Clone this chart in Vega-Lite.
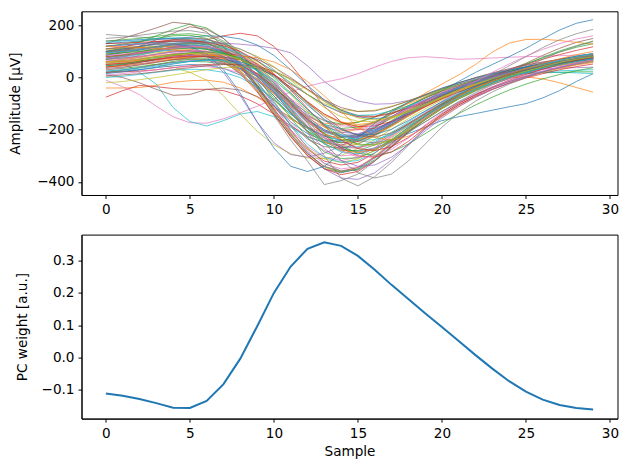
{
"$schema": "https://vega.github.io/schema/vega-lite/v6.json",
"autosize": {"type": "pad"},
"padding": {"left": 7.5, "top": 10.3, "right": 1, "bottom": 5},
"background": "white",
"spacing": 39.3,
"bounds": "flush",
"config": {
"view": {"stroke": "black", "strokeWidth": 1},
"axis": {"domainColor": "black", "domainWidth": 1, "tickColor": "black", "tickWidth": 1, "tickSize": 3.5, "labelFont": "DejaVu Sans", "labelFontSize": 13.6, "labelColor": "black", "labelPadding": 4, "labelOverlap": false, "labelFlush": false, "titleFont": "DejaVu Sans", "titleFontSize": 13.6, "titleFontWeight": "normal", "titleColor": "black", "grid": false}
},
"datasets": {
"wave": [
{"sample":0,"w00":80,"w01":-40,"w02":100,"w03":-75,"w04":120,"w05":130,"w06":-10,"w07":60,"w08":50,"w09":70,"w10":20,"w11":50,"w12":30,"w13":70,"w14":100,"w15":10,"w16":90,"w17":40,"w18":80,"w19":110,"w20":60,"w21":70,"w22":20,"w23":110,"w24":140,"w25":60,"w26":50,"w27":165,"w28":90,"w29":0,"w30":130,"w31":40,"w32":75,"w33":20,"w34":95,"w35":85,"w36":60,"w37":100,"w38":70,"w39":120,"w40":45,"w41":110,"w42":140,"w43":80,"w44":25,"w45":95,"w46":10,"w47":55,"w48":105,"w49":70,"w50":85,"w51":60,"w52":120,"w53":40,"w54":75,"w55":100,"w56":30,"w57":150,"w58":55,"w59":95,"w60":100,"w61":60,"w62":90,"w63":50,"w64":120,"w65":5,"w66":65,"w67":110,"w68":-20,"w69":135,"w70":15,"w71":120,"w72":45,"w73":130,"w74":70,"w75":35,"w76":85,"w77":100,"w78":60,"w79":25},
{"sample":1,"w00":85,"w01":-40,"w02":115,"w03":-50,"w04":125,"w05":150,"w06":-35,"w07":70,"w08":55,"w09":55,"w10":25,"w11":55,"w12":35,"w13":80,"w14":105,"w15":0,"w16":98,"w17":45,"w18":85,"w19":112,"w20":65,"w21":75,"w22":28,"w23":118,"w24":142,"w25":62,"w26":58,"w27":160,"w28":95,"w29":5,"w30":135,"w31":45,"w32":85,"w33":22,"w34":100,"w35":100,"w36":65,"w37":102,"w38":72,"w39":125,"w40":50,"w41":112,"w42":145,"w43":88,"w44":30,"w45":105,"w46":15,"w47":62,"w48":110,"w49":78,"w50":95,"w51":68,"w52":128,"w53":48,"w54":82,"w55":108,"w56":38,"w57":155,"w58":60,"w59":100,"w60":110,"w61":62,"w62":95,"w63":55,"w64":125,"w65":10,"w66":70,"w67":115,"w68":-15,"w69":140,"w70":22,"w71":118,"w72":52,"w73":132,"w74":75,"w75":40,"w76":90,"w77":104,"w78":64,"w79":30},
{"sample":2,"w00":92,"w01":-38,"w02":135,"w03":-30,"w04":130,"w05":170,"w06":-65,"w07":85,"w08":55,"w09":20,"w10":30,"w11":60,"w12":42,"w13":92,"w14":112,"w15":-20,"w16":108,"w17":52,"w18":90,"w19":115,"w20":70,"w21":80,"w22":38,"w23":128,"w24":145,"w25":65,"w26":68,"w27":155,"w28":100,"w29":12,"w30":140,"w31":52,"w32":98,"w33":25,"w34":108,"w35":120,"w36":72,"w37":105,"w38":75,"w39":130,"w40":58,"w41":115,"w42":150,"w43":96,"w44":38,"w45":118,"w46":22,"w47":70,"w48":115,"w49":88,"w50":105,"w51":78,"w52":138,"w53":58,"w54":92,"w55":118,"w56":50,"w57":162,"w58":68,"w59":108,"w60":120,"w61":66,"w62":100,"w63":62,"w64":128,"w65":15,"w66":78,"w67":120,"w68":-8,"w69":145,"w70":30,"w71":115,"w72":62,"w73":135,"w74":82,"w75":48,"w76":96,"w77":110,"w78":70,"w79":36},
{"sample":3,"w00":100,"w01":-30,"w02":160,"w03":-35,"w04":135,"w05":190,"w06":-110,"w07":100,"w08":50,"w09":-25,"w10":38,"w11":65,"w12":50,"w13":105,"w14":120,"w15":-45,"w16":118,"w17":60,"w18":95,"w19":118,"w20":78,"w21":85,"w22":50,"w23":138,"w24":148,"w25":70,"w26":80,"w27":150,"w28":108,"w29":20,"w30":145,"w31":60,"w32":112,"w33":30,"w34":115,"w35":145,"w36":80,"w37":110,"w38":80,"w39":135,"w40":68,"w41":118,"w42":158,"w43":105,"w44":48,"w45":132,"w46":30,"w47":80,"w48":120,"w49":100,"w50":118,"w51":90,"w52":150,"w53":70,"w54":104,"w55":130,"w56":64,"w57":170,"w58":78,"w59":118,"w60":128,"w61":70,"w62":105,"w63":70,"w64":130,"w65":22,"w66":88,"w67":126,"w68":0,"w69":150,"w70":40,"w71":112,"w72":74,"w73":138,"w74":90,"w75":58,"w76":104,"w77":118,"w78":78,"w79":44},
{"sample":4,"w00":105,"w01":-18,"w02":185,"w03":-42,"w04":138,"w05":212,"w06":-150,"w07":115,"w08":40,"w09":-115,"w10":45,"w11":70,"w12":58,"w13":118,"w14":125,"w15":-68,"w16":128,"w17":68,"w18":100,"w19":120,"w20":85,"w21":90,"w22":62,"w23":145,"w24":150,"w25":75,"w26":92,"w27":148,"w28":115,"w29":28,"w30":150,"w31":70,"w32":125,"w33":38,"w34":122,"w35":170,"w36":88,"w37":115,"w38":85,"w39":138,"w40":78,"w41":120,"w42":165,"w43":112,"w44":58,"w45":145,"w46":38,"w47":90,"w48":125,"w49":110,"w50":130,"w51":102,"w52":160,"w53":82,"w54":116,"w55":140,"w56":78,"w57":178,"w58":88,"w59":126,"w60":130,"w61":75,"w62":110,"w63":78,"w64":128,"w65":30,"w66":98,"w67":132,"w68":10,"w69":152,"w70":52,"w71":108,"w72":86,"w73":140,"w74":98,"w75":68,"w76":112,"w77":126,"w78":86,"w79":54},
{"sample":5,"w00":102,"w01":-12,"w02":205,"w03":-45,"w04":138,"w05":205,"w06":-173,"w07":120,"w08":20,"w09":-168,"w10":50,"w11":72,"w12":62,"w13":130,"w14":125,"w15":-65,"w16":130,"w17":72,"w18":102,"w19":118,"w20":88,"w21":92,"w22":70,"w23":145,"w24":150,"w25":80,"w26":100,"w27":145,"w28":120,"w29":32,"w30":155,"w31":78,"w32":132,"w33":45,"w34":125,"w35":195,"w36":92,"w37":118,"w38":85,"w39":135,"w40":85,"w41":120,"w42":168,"w43":115,"w44":65,"w45":152,"w46":42,"w47":95,"w48":128,"w49":115,"w50":135,"w51":108,"w52":162,"w53":88,"w54":122,"w55":142,"w56":86,"w57":180,"w58":92,"w59":128,"w60":120,"w61":80,"w62":112,"w63":82,"w64":115,"w65":38,"w66":105,"w67":135,"w68":20,"w69":150,"w70":62,"w71":102,"w72":95,"w73":140,"w74":102,"w75":76,"w76":118,"w77":132,"w78":92,"w79":62},
{"sample":6,"w00":90,"w01":-10,"w02":190,"w03":-45,"w04":135,"w05":175,"w06":-175,"w07":110,"w08":-10,"w09":-186,"w10":48,"w11":68,"w12":60,"w13":145,"w14":118,"w15":-45,"w16":120,"w17":70,"w18":100,"w19":110,"w20":82,"w21":88,"w22":72,"w23":135,"w24":145,"w25":85,"w26":98,"w27":138,"w28":118,"w29":30,"w30":160,"w31":82,"w32":128,"w33":50,"w34":120,"w35":185,"w36":88,"w37":115,"w38":78,"w39":128,"w40":85,"w41":112,"w42":160,"w43":110,"w44":65,"w45":148,"w46":42,"w47":92,"w48":128,"w49":110,"w50":125,"w51":100,"w52":150,"w53":82,"w54":118,"w55":132,"w56":82,"w57":170,"w58":85,"w59":120,"w60":90,"w61":84,"w62":108,"w63":80,"w64":80,"w65":45,"w66":102,"w67":130,"w68":30,"w69":140,"w70":68,"w71":92,"w72":98,"w73":135,"w74":98,"w75":80,"w76":118,"w77":134,"w78":94,"w79":66},
{"sample":7,"w00":62,"w01":-18,"w02":150,"w03":-50,"w04":132,"w05":120,"w06":-158,"w07":80,"w08":-70,"w09":-165,"w10":35,"w11":55,"w12":52,"w13":160,"w14":100,"w15":-40,"w16":92,"w17":60,"w18":95,"w19":90,"w20":65,"w21":75,"w22":65,"w23":105,"w24":130,"w25":88,"w26":80,"w27":120,"w28":108,"w29":20,"w30":158,"w31":80,"w32":110,"w33":52,"w34":105,"w35":150,"w36":75,"w37":102,"w38":60,"w39":115,"w40":75,"w41":95,"w42":135,"w43":100,"w44":55,"w45":128,"w46":35,"w47":80,"w48":122,"w49":92,"w50":95,"w51":75,"w52":115,"w53":60,"w54":98,"w55":100,"w56":62,"w57":140,"w58":62,"w59":96,"w60":30,"w61":86,"w62":95,"w63":70,"w64":20,"w65":50,"w66":88,"w67":115,"w68":38,"w69":118,"w70":68,"w71":72,"w72":92,"w73":122,"w74":82,"w75":78,"w76":108,"w77":128,"w78":88,"w79":64},
{"sample":8,"w00":18,"w01":-40,"w02":80,"w03":-70,"w04":128,"w05":50,"w06":-135,"w07":25,"w08":-140,"w09":-140,"w10":10,"w11":30,"w12":35,"w13":170,"w14":70,"w15":-48,"w16":40,"w17":40,"w18":85,"w19":55,"w20":35,"w21":50,"w22":45,"w23":50,"w24":100,"w25":85,"w26":40,"w27":85,"w28":88,"w29":0,"w30":148,"w31":70,"w32":70,"w33":48,"w34":78,"w35":95,"w36":50,"w37":75,"w38":25,"w39":95,"w40":50,"w41":62,"w42":90,"w43":82,"w44":32,"w45":88,"w46":18,"w47":55,"w48":108,"w49":58,"w50":40,"w51":25,"w52":55,"w53":15,"w54":55,"w55":45,"w56":20,"w57":85,"w58":18,"w59":52,"w60":-60,"w61":84,"w62":70,"w63":50,"w64":-70,"w65":50,"w66":58,"w67":85,"w68":42,"w69":80,"w70":60,"w71":40,"w72":75,"w73":100,"w74":52,"w75":68,"w76":85,"w77":110,"w78":70,"w79":52},
{"sample":9,"w00":-42,"w01":-75,"w02":0,"w03":-100,"w04":122,"w05":-30,"w06":-110,"w07":-50,"w08":-205,"w09":-130,"w10":-30,"w11":-10,"w12":5,"w13":160,"w14":25,"w15":-72,"w16":-35,"w17":5,"w18":62,"w19":5,"w20":-10,"w21":10,"w22":10,"w23":-30,"w24":50,"w25":70,"w26":-20,"w27":35,"w28":55,"w29":-35,"w30":125,"w31":48,"w32":10,"w33":35,"w34":35,"w35":25,"w36":15,"w37":30,"w38":-25,"w39":65,"w40":10,"w41":15,"w42":25,"w43":52,"w44":-5,"w45":30,"w46":-10,"w47":15,"w48":82,"w49":8,"w50":-40,"w51":-50,"w52":-30,"w53":-55,"w54":-15,"w55":-35,"w56":-45,"w57":5,"w58":-48,"w59":-15,"w60":-170,"w61":76,"w62":30,"w63":15,"w64":-170,"w65":42,"w66":10,"w67":40,"w68":38,"w69":25,"w70":40,"w71":-5,"w72":45,"w73":65,"w74":5,"w75":45,"w76":45,"w77":78,"w78":38,"w79":28},
{"sample":10,"w00":-108,"w01":-118,"w02":-80,"w03":-140,"w04":112,"w05":-110,"w06":-82,"w07":-145,"w08":-258,"w09":-150,"w10":-85,"w11":-60,"w12":-40,"w13":120,"w14":-35,"w15":-110,"w16":-120,"w17":-50,"w18":25,"w19":-55,"w20":-70,"w21":-45,"w22":-40,"w23":-120,"w24":-15,"w25":40,"w26":-95,"w27":-30,"w28":10,"w29":-85,"w30":85,"w31":10,"w32":-70,"w33":10,"w34":-20,"w35":-55,"w36":-30,"w37":-30,"w38":-85,"w39":25,"w40":-45,"w41":-45,"w42":-55,"w43":12,"w44":-55,"w45":-42,"w46":-50,"w47":-40,"w48":42,"w49":-55,"w50":-135,"w51":-140,"w52":-125,"w53":-140,"w54":-105,"w55":-128,"w56":-128,"w57":-90,"w58":-130,"w59":-98,"w60":-270,"w61":60,"w62":-25,"w63":-35,"w64":-250,"w65":25,"w66":-50,"w67":-20,"w68":22,"w69":-45,"w70":5,"w71":-62,"w72":0,"w73":15,"w74":-58,"w75":10,"w76":-12,"w77":30,"w78":-8,"w79":-10},
{"sample":11,"w00":-170,"w01":-160,"w02":-150,"w03":-185,"w04":95,"w05":-180,"w06":-55,"w07":-240,"w08":-292,"w09":-190,"w10":-140,"w11":-110,"w12":-90,"w13":50,"w14":-100,"w15":-155,"w16":-200,"w17":-120,"w18":-20,"w19":-118,"w20":-135,"w21":-105,"w22":-95,"w23":-205,"w24":-85,"w25":0,"w26":-170,"w27":-100,"w28":-45,"w29":-140,"w30":30,"w31":-40,"w32":-155,"w33":-25,"w34":-82,"w35":-130,"w36":-80,"w37":-100,"w38":-150,"w39":-20,"w40":-105,"w41":-110,"w42":-135,"w43":-38,"w44":-112,"w45":-118,"w46":-98,"w47":-102,"w48":-10,"w49":-125,"w50":-225,"w51":-228,"w52":-215,"w53":-225,"w54":-200,"w55":-218,"w56":-212,"w57":-185,"w58":-210,"w59":-182,"w60":-340,"w61":30,"w62":-90,"w63":-95,"w64":-295,"w65":-5,"w66":-118,"w67":-95,"w68":-8,"w69":-122,"w70":-45,"w71":-128,"w72":-58,"w73":-48,"w74":-132,"w75":-38,"w76":-82,"w77":-30,"w78":-66,"w79":-62},
{"sample":12,"w00":-215,"w01":-192,"w02":-205,"w03":-225,"w04":45,"w05":-235,"w06":-33,"w07":-320,"w08":-308,"w09":-228,"w10":-190,"w11":-150,"w12":-135,"w13":-30,"w14":-160,"w15":-195,"w16":-265,"w17":-210,"w18":-65,"w19":-172,"w20":-195,"w21":-155,"w22":-145,"w23":-275,"w24":-150,"w25":-45,"w26":-235,"w27":-165,"w28":-100,"w29":-190,"w30":-30,"w31":-95,"w32":-230,"w33":-65,"w34":-140,"w35":-190,"w36":-128,"w37":-170,"w38":-208,"w39":-65,"w40":-160,"w41":-170,"w42":-205,"w43":-92,"w44":-165,"w45":-188,"w46":-145,"w47":-160,"w48":-65,"w49":-190,"w50":-300,"w51":-300,"w52":-290,"w53":-298,"w54":-285,"w55":-292,"w56":-282,"w57":-268,"w58":-272,"w59":-255,"w60":-360,"w61":-15,"w62":-155,"w63":-160,"w64":-305,"w65":-45,"w66":-182,"w67":-175,"w68":-48,"w69":-195,"w70":-105,"w71":-192,"w72":-122,"w73":-118,"w74":-208,"w75":-95,"w76":-158,"w77":-98,"w78":-130,"w79":-122},
{"sample":13,"w00":-240,"w01":-210,"w02":-240,"w03":-250,"w04":-15,"w05":-265,"w06":-18,"w07":-410,"w08":-310,"w09":-248,"w10":-225,"w11":-175,"w12":-165,"w13":-110,"w14":-205,"w15":-222,"w16":-305,"w17":-300,"w18":-100,"w19":-210,"w20":-245,"w21":-190,"w22":-180,"w23":-320,"w24":-200,"w25":-90,"w26":-280,"w27":-215,"w28":-145,"w29":-225,"w30":-85,"w31":-140,"w32":-285,"w33":-105,"w34":-185,"w35":-232,"w36":-165,"w37":-230,"w38":-248,"w39":-105,"w40":-200,"w41":-215,"w42":-255,"w43":-140,"w44":-205,"w45":-240,"w46":-182,"w47":-205,"w48":-115,"w49":-240,"w50":-350,"w51":-348,"w52":-342,"w53":-350,"w54":-350,"w55":-340,"w56":-330,"w57":-328,"w58":-312,"w59":-305,"w60":-340,"w61":-70,"w62":-215,"w63":-220,"w64":-290,"w65":-85,"w66":-232,"w67":-250,"w68":-92,"w69":-252,"w70":-160,"w71":-245,"w72":-182,"w73":-185,"w74":-272,"w75":-150,"w76":-228,"w77":-162,"w78":-190,"w79":-178},
{"sample":14,"w00":-242,"w01":-212,"w02":-250,"w03":-258,"w04":-60,"w05":-270,"w06":-5,"w07":-395,"w08":-298,"w09":-245,"w10":-240,"w11":-180,"w12":-178,"w13":-170,"w14":-225,"w15":-230,"w16":-318,"w17":-385,"w18":-122,"w19":-228,"w20":-275,"w21":-205,"w22":-195,"w23":-335,"w24":-225,"w25":-125,"w26":-300,"w27":-240,"w28":-175,"w29":-240,"w30":-125,"w31":-170,"w32":-310,"w33":-135,"w34":-210,"w35":-250,"w36":-185,"w37":-270,"w38":-262,"w39":-132,"w40":-220,"w41":-238,"w42":-280,"w43":-172,"w44":-225,"w45":-268,"w46":-200,"w47":-228,"w48":-150,"w49":-265,"w50":-365,"w51":-362,"w52":-362,"w53":-372,"w54":-385,"w55":-358,"w56":-350,"w57":-358,"w58":-325,"w59":-325,"w60":-290,"w61":-130,"w62":-262,"w63":-270,"w64":-262,"w65":-115,"w66":-262,"w67":-318,"w68":-130,"w69":-285,"w70":-200,"w71":-278,"w72":-228,"w73":-240,"w74":-318,"w75":-195,"w76":-280,"w77":-212,"w78":-235,"w79":-220},
{"sample":15,"w00":-225,"w01":-198,"w02":-238,"w03":-245,"w04":-90,"w05":-255,"w06":15,"w07":-370,"w08":-272,"w09":-225,"w10":-235,"w11":-170,"w12":-172,"w13":-200,"w14":-225,"w15":-218,"w16":-305,"w17":-415,"w18":-130,"w19":-225,"w20":-282,"w21":-195,"w22":-190,"w23":-325,"w24":-228,"w25":-145,"w26":-295,"w27":-240,"w28":-185,"w29":-235,"w30":-150,"w31":-180,"w32":-308,"w33":-150,"w34":-215,"w35":-245,"w36":-188,"w37":-285,"w38":-252,"w39":-145,"w40":-220,"w41":-238,"w42":-280,"w43":-188,"w44":-225,"w45":-270,"w46":-200,"w47":-230,"w48":-168,"w49":-265,"w50":-350,"w51":-345,"w52":-352,"w53":-360,"w54":-390,"w55":-345,"w56":-342,"w57":-355,"w58":-312,"w59":-318,"w60":-230,"w61":-190,"w62":-290,"w63":-300,"w64":-225,"w65":-130,"w66":-270,"w67":-365,"w68":-155,"w69":-292,"w70":-220,"w71":-288,"w72":-255,"w73":-272,"w74":-340,"w75":-222,"w76":-305,"w77":-242,"w78":-258,"w79":-240},
{"sample":16,"w00":-193,"w01":-172,"w02":-205,"w03":-215,"w04":-102,"w05":-222,"w06":40,"w07":-320,"w08":-238,"w09":-192,"w10":-210,"w11":-150,"w12":-152,"w13":-195,"w14":-205,"w15":-190,"w16":-270,"w17":-380,"w18":-125,"w19":-205,"w20":-270,"w21":-170,"w22":-170,"w23":-290,"w24":-210,"w25":-148,"w26":-268,"w27":-220,"w28":-178,"w29":-212,"w30":-158,"w31":-172,"w32":-280,"w33":-150,"w34":-200,"w35":-220,"w36":-175,"w37":-275,"w38":-225,"w39":-142,"w40":-200,"w41":-218,"w42":-258,"w43":-185,"w44":-205,"w45":-250,"w46":-182,"w47":-212,"w48":-168,"w49":-245,"w50":-308,"w51":-302,"w52":-315,"w53":-320,"w54":-365,"w55":-305,"w56":-308,"w57":-320,"w58":-278,"w59":-288,"w60":-175,"w61":-230,"w62":-298,"w63":-305,"w64":-185,"w65":-128,"w66":-255,"w67":-385,"w68":-162,"w69":-275,"w70":-218,"w71":-275,"w72":-258,"w73":-280,"w74":-335,"w75":-228,"w76":-302,"w77":-250,"w78":-258,"w79":-238},
{"sample":17,"w00":-152,"w01":-140,"w02":-165,"w03":-175,"w04":-100,"w05":-180,"w06":62,"w07":-262,"w08":-198,"w09":-152,"w10":-172,"w11":-125,"w12":-125,"w13":-170,"w14":-172,"w15":-155,"w16":-225,"w17":-325,"w18":-110,"w19":-172,"w20":-245,"w21":-135,"w22":-140,"w23":-240,"w24":-180,"w25":-135,"w26":-228,"w27":-185,"w28":-158,"w29":-178,"w30":-150,"w31":-152,"w32":-238,"w33":-138,"w34":-172,"w35":-182,"w36":-150,"w37":-248,"w38":-188,"w39":-128,"w40":-168,"w41":-185,"w42":-220,"w43":-168,"w44":-172,"w45":-215,"w46":-152,"w47":-180,"w48":-155,"w49":-210,"w50":-255,"w51":-248,"w52":-265,"w53":-265,"w54":-315,"w55":-252,"w56":-258,"w57":-268,"w58":-232,"w59":-245,"w60":-130,"w61":-240,"w62":-285,"w63":-285,"w64":-148,"w65":-112,"w66":-222,"w67":-370,"w68":-152,"w69":-238,"w70":-198,"w71":-242,"w72":-240,"w73":-265,"w74":-305,"w75":-212,"w76":-275,"w77":-238,"w78":-238,"w79":-218},
{"sample":18,"w00":-112,"w01":-108,"w02":-125,"w03":-135,"w04":-88,"w05":-138,"w06":76,"w07":-205,"w08":-158,"w09":-112,"w10":-130,"w11":-100,"w12":-95,"w13":-135,"w14":-135,"w15":-120,"w16":-178,"w17":-260,"w18":-90,"w19":-135,"w20":-215,"w21":-98,"w22":-108,"w23":-190,"w24":-145,"w25":-115,"w26":-185,"w27":-148,"w28":-130,"w29":-140,"w30":-130,"w31":-125,"w32":-192,"w33":-118,"w34":-140,"w35":-142,"w36":-120,"w37":-210,"w38":-148,"w39":-108,"w40":-132,"w41":-148,"w42":-178,"w43":-142,"w44":-135,"w45":-175,"w46":-118,"w47":-142,"w48":-132,"w49":-170,"w50":-200,"w51":-195,"w52":-210,"w53":-208,"w54":-255,"w55":-198,"w56":-205,"w57":-212,"w58":-185,"w59":-198,"w60":-95,"w61":-225,"w62":-255,"w63":-245,"w64":-115,"w65":-90,"w66":-180,"w67":-320,"w68":-130,"w69":-192,"w70":-165,"w71":-198,"w72":-205,"w73":-230,"w74":-258,"w75":-180,"w76":-232,"w77":-208,"w78":-202,"w79":-185},
{"sample":19,"w00":-78,"w01":-78,"w02":-90,"w03":-98,"w04":-70,"w05":-100,"w06":80,"w07":-158,"w08":-120,"w09":-76,"w10":-90,"w11":-75,"w12":-68,"w13":-100,"w14":-100,"w15":-88,"w16":-135,"w17":-195,"w18":-68,"w19":-100,"w20":-190,"w21":-60,"w22":-78,"w23":-145,"w24":-110,"w25":-90,"w26":-145,"w27":-112,"w28":-100,"w29":-102,"w30":-105,"w31":-96,"w32":-148,"w33":-95,"w34":-108,"w35":-105,"w36":-90,"w37":-170,"w38":-110,"w39":-85,"w40":-98,"w41":-112,"w42":-138,"w43":-112,"w44":-98,"w45":-138,"w46":-85,"w47":-105,"w48":-105,"w49":-130,"w50":-150,"w51":-148,"w52":-160,"w53":-158,"w54":-198,"w55":-148,"w56":-155,"w57":-162,"w58":-140,"w59":-152,"w60":-65,"w61":-192,"w62":-215,"w63":-193,"w64":-85,"w65":-66,"w66":-135,"w67":-255,"w68":-102,"w69":-145,"w70":-128,"w71":-152,"w72":-162,"w73":-185,"w74":-205,"w75":-140,"w76":-182,"w77":-170,"w78":-160,"w79":-148},
{"sample":20,"w00":-50,"w01":-52,"w02":-60,"w03":-65,"w04":-50,"w05":-68,"w06":76,"w07":-118,"w08":-86,"w09":-45,"w10":-50,"w11":-52,"w12":-45,"w13":-70,"w14":-70,"w15":-60,"w16":-98,"w17":-140,"w18":-48,"w19":-70,"w20":-165,"w21":-25,"w22":-52,"w23":-105,"w24":-78,"w25":-65,"w26":-108,"w27":-80,"w28":-72,"w29":-68,"w30":-80,"w31":-70,"w32":-108,"w33":-70,"w34":-78,"w35":-72,"w36":-62,"w37":-130,"w38":-76,"w39":-62,"w40":-68,"w41":-80,"w42":-100,"w43":-82,"w44":-65,"w45":-102,"w46":-55,"w47":-72,"w48":-78,"w49":-95,"w50":-108,"w51":-106,"w52":-115,"w53":-115,"w54":-148,"w55":-105,"w56":-112,"w57":-118,"w58":-100,"w59":-110,"w60":-40,"w61":-150,"w62":-175,"w63":-145,"w64":-58,"w65":-42,"w66":-92,"w67":-190,"w68":-74,"w69":-102,"w70":-92,"w71":-110,"w72":-120,"w73":-140,"w74":-155,"w75":-100,"w76":-135,"w77":-130,"w78":-118,"w79":-110},
{"sample":21,"w00":-26,"w01":-30,"w02":-35,"w03":-38,"w04":-30,"w05":-40,"w06":70,"w07":-82,"w08":-56,"w09":-20,"w10":-15,"w11":-32,"w12":-25,"w13":-45,"w14":-45,"w15":-36,"w16":-65,"w17":-98,"w18":-30,"w19":-45,"w20":-150,"w21":10,"w22":-30,"w23":-72,"w24":-50,"w25":-42,"w26":-75,"w27":-50,"w28":-48,"w29":-40,"w30":-55,"w31":-46,"w32":-74,"w33":-45,"w34":-50,"w35":-44,"w36":-38,"w37":-95,"w38":-46,"w39":-40,"w40":-42,"w41":-52,"w42":-68,"w43":-55,"w44":-36,"w45":-70,"w46":-28,"w47":-44,"w48":-52,"w49":-63,"w50":-72,"w51":-70,"w52":-78,"w53":-78,"w54":-105,"w55":-68,"w56":-76,"w57":-80,"w58":-66,"w59":-74,"w60":-20,"w61":-110,"w62":-138,"w63":-105,"w64":-35,"w65":-20,"w66":-52,"w67":-135,"w68":-48,"w69":-65,"w70":-60,"w71":-72,"w72":-82,"w73":-100,"w74":-112,"w75":-65,"w76":-95,"w77":-92,"w78":-80,"w79":-75},
{"sample":22,"w00":-6,"w01":-10,"w02":-12,"w03":-15,"w04":-12,"w05":-15,"w06":72,"w07":-52,"w08":-30,"w09":0,"w10":20,"w11":-15,"w12":-8,"w13":-22,"w14":-22,"w15":-15,"w16":-38,"w17":-65,"w18":-14,"w19":-22,"w20":-138,"w21":50,"w22":-10,"w23":-45,"w24":-25,"w25":-22,"w26":-48,"w27":-20,"w28":-26,"w29":-16,"w30":-32,"w31":-25,"w32":-45,"w33":-20,"w34":-25,"w35":-20,"w36":-18,"w37":-65,"w38":-20,"w39":-20,"w40":-18,"w41":-28,"w42":-40,"w43":-30,"w44":-12,"w45":-42,"w46":-5,"w47":-20,"w48":-28,"w49":-36,"w50":-42,"w51":-40,"w52":-46,"w53":-46,"w54":-70,"w55":-38,"w56":-46,"w57":-48,"w58":-38,"w59":-44,"w60":-2,"w61":-75,"w62":-105,"w63":-72,"w64":-15,"w65":0,"w66":-15,"w67":-90,"w68":-25,"w69":-35,"w70":-32,"w71":-40,"w72":-50,"w73":-66,"w74":-76,"w75":-35,"w76":-62,"w77":-58,"w78":-48,"w79":-45},
{"sample":23,"w00":12,"w01":8,"w02":8,"w03":5,"w04":5,"w05":5,"w06":75,"w07":-26,"w08":-8,"w09":16,"w10":50,"w11":-5,"w12":2,"w13":-3,"w14":-3,"w15":3,"w16":-15,"w17":-38,"w18":0,"w19":-2,"w20":-125,"w21":98,"w22":8,"w23":-20,"w24":-5,"w25":-5,"w26":-24,"w27":10,"w28":-8,"w29":4,"w30":-12,"w31":-6,"w32":-20,"w33":5,"w34":-2,"w35":2,"w36":0,"w37":-38,"w38":2,"w39":-2,"w40":3,"w41":-6,"w42":-10,"w43":-8,"w44":8,"w45":-18,"w46":15,"w47":0,"w48":-6,"w49":-12,"w50":-16,"w51":-14,"w52":-18,"w53":-18,"w54":-40,"w55":-12,"w56":-20,"w57":-20,"w58":-12,"w59":-18,"w60":14,"w61":-45,"w62":-75,"w63":-45,"w64":2,"w65":18,"w66":20,"w67":-55,"w68":-5,"w69":-10,"w70":-8,"w71":-12,"w72":-22,"w73":-36,"w74":-46,"w75":-10,"w76":-35,"w77":-28,"w78":-20,"w79":-20},
{"sample":24,"w00":28,"w01":22,"w02":30,"w03":22,"w04":20,"w05":30,"w06":78,"w07":-5,"w08":12,"w09":30,"w10":80,"w11":0,"w12":10,"w13":15,"w14":14,"w15":18,"w16":5,"w17":-15,"w18":13,"w19":16,"w20":-112,"w21":132,"w22":24,"w23":0,"w24":15,"w25":10,"w26":-4,"w27":45,"w28":10,"w29":12,"w30":6,"w31":12,"w32":2,"w33":28,"w34":18,"w35":22,"w36":15,"w37":-15,"w38":20,"w39":10,"w40":22,"w41":14,"w42":20,"w43":12,"w44":20,"w45":4,"w46":32,"w47":18,"w48":14,"w49":8,"w50":6,"w51":8,"w52":5,"w53":5,"w54":-15,"w55":10,"w56":2,"w57":10,"w58":10,"w59":4,"w60":28,"w61":-20,"w62":-48,"w63":-22,"w64":18,"w65":34,"w66":52,"w67":-25,"w68":12,"w69":12,"w70":12,"w71":12,"w72":2,"w73":-10,"w74":-20,"w75":12,"w76":-12,"w77":-2,"w78":4,"w79":2},
{"sample":25,"w00":42,"w01":35,"w02":52,"w03":38,"w04":34,"w05":55,"w06":80,"w07":15,"w08":28,"w09":42,"w10":112,"w11":2,"w12":15,"w13":30,"w14":30,"w15":32,"w16":22,"w17":5,"w18":25,"w19":32,"w20":-100,"w21":146,"w22":38,"w23":18,"w24":32,"w25":24,"w26":15,"w27":80,"w28":25,"w29":18,"w30":22,"w31":28,"w32":20,"w33":50,"w34":36,"w35":40,"w36":28,"w37":5,"w38":35,"w39":18,"w40":40,"w41":32,"w42":50,"w43":30,"w44":28,"w45":22,"w46":46,"w47":33,"w48":32,"w49":26,"w50":25,"w51":26,"w52":25,"w53":24,"w54":5,"w55":28,"w56":22,"w57":40,"w58":30,"w59":24,"w60":40,"w61":2,"w62":-25,"w63":-2,"w64":32,"w65":48,"w66":82,"w67":0,"w68":26,"w69":32,"w70":28,"w71":34,"w72":22,"w73":12,"w74":2,"w75":30,"w76":8,"w77":20,"w78":24,"w79":20},
{"sample":26,"w00":55,"w01":45,"w02":75,"w03":50,"w04":47,"w05":85,"w06":82,"w07":32,"w08":42,"w09":52,"w10":148,"w11":-5,"w12":18,"w13":45,"w14":44,"w15":44,"w16":38,"w17":22,"w18":37,"w19":46,"w20":-78,"w21":147,"w22":50,"w23":35,"w24":48,"w25":36,"w26":32,"w27":115,"w28":38,"w29":20,"w30":36,"w31":42,"w32":36,"w33":70,"w34":52,"w35":56,"w36":40,"w37":22,"w38":48,"w39":23,"w40":56,"w41":48,"w42":78,"w43":46,"w44":33,"w45":38,"w46":58,"w47":46,"w48":48,"w49":42,"w50":42,"w51":42,"w52":42,"w53":40,"w54":22,"w55":45,"w56":40,"w57":70,"w58":48,"w59":42,"w60":52,"w61":20,"w62":-5,"w63":15,"w64":46,"w65":60,"w66":108,"w67":22,"w68":38,"w69":50,"w70":42,"w71":54,"w72":40,"w73":32,"w74":22,"w75":45,"w76":26,"w77":40,"w78":42,"w79":36},
{"sample":27,"w00":66,"w01":52,"w02":98,"w03":60,"w04":60,"w05":112,"w06":84,"w07":48,"w08":54,"w09":60,"w10":182,"w11":-20,"w12":20,"w13":58,"w14":57,"w15":54,"w16":52,"w17":38,"w18":48,"w19":58,"w20":-50,"w21":142,"w22":60,"w23":50,"w24":62,"w25":47,"w26":47,"w27":145,"w28":50,"w29":20,"w30":50,"w31":55,"w32":50,"w33":88,"w34":66,"w35":70,"w36":50,"w37":38,"w38":58,"w39":26,"w40":70,"w41":62,"w42":102,"w43":60,"w44":36,"w45":52,"w46":68,"w47":56,"w48":62,"w49":56,"w50":57,"w51":56,"w52":57,"w53":54,"w54":38,"w55":60,"w56":55,"w57":98,"w58":63,"w59":58,"w60":62,"w61":35,"w62":12,"w63":30,"w64":58,"w65":70,"w66":130,"w67":40,"w68":48,"w69":66,"w70":54,"w71":72,"w72":55,"w73":50,"w74":40,"w75":58,"w76":42,"w77":58,"w78":58,"w79":50},
{"sample":28,"w00":76,"w01":58,"w02":116,"w03":68,"w04":72,"w05":135,"w06":86,"w07":60,"w08":64,"w09":66,"w10":208,"w11":-38,"w12":22,"w13":70,"w14":68,"w15":62,"w16":64,"w17":50,"w18":58,"w19":68,"w20":-15,"w21":135,"w22":68,"w23":63,"w24":75,"w25":56,"w26":60,"w27":168,"w28":60,"w29":18,"w30":62,"w31":65,"w32":62,"w33":104,"w34":78,"w35":82,"w36":58,"w37":52,"w38":66,"w39":28,"w40":82,"w41":74,"w42":122,"w43":72,"w44":38,"w45":64,"w46":76,"w47":64,"w48":74,"w49":68,"w50":70,"w51":68,"w52":70,"w53":66,"w54":52,"w55":73,"w56":68,"w57":120,"w58":76,"w59":72,"w60":70,"w61":48,"w62":26,"w63":42,"w64":68,"w65":78,"w66":148,"w67":55,"w68":56,"w69":80,"w70":64,"w71":88,"w72":68,"w73":65,"w74":55,"w75":68,"w76":56,"w77":74,"w78":70,"w79":62},
{"sample":29,"w00":84,"w01":62,"w02":130,"w03":74,"w04":82,"w05":150,"w06":88,"w07":70,"w08":72,"w09":70,"w10":222,"w11":-56,"w12":22,"w13":80,"w14":78,"w15":68,"w16":74,"w17":60,"w18":65,"w19":76,"w20":15,"w21":128,"w22":75,"w23":72,"w24":85,"w25":63,"w26":70,"w27":185,"w28":68,"w29":15,"w30":72,"w31":74,"w32":72,"w33":118,"w34":88,"w35":92,"w36":64,"w37":63,"w38":72,"w39":30,"w40":92,"w41":84,"w42":140,"w43":82,"w44":40,"w45":74,"w46":82,"w47":70,"w48":84,"w49":78,"w50":80,"w51":78,"w52":80,"w53":76,"w54":64,"w55":84,"w56":78,"w57":138,"w58":86,"w59":84,"w60":76,"w61":58,"w62":38,"w63":52,"w64":78,"w65":84,"w66":160,"w67":66,"w68":62,"w69":92,"w70":72,"w71":100,"w72":78,"w73":78,"w74":68,"w75":76,"w76":68,"w77":88,"w78":80,"w79":72}
],
"pc": [
{"sample":0,"weight":-0.112},{"sample":1,"weight":-0.119},{"sample":2,"weight":-0.129},{"sample":3,"weight":-0.142},{"sample":4,"weight":-0.156},{"sample":5,"weight":-0.157},{"sample":6,"weight":-0.135},{"sample":7,"weight":-0.083},{"sample":8,"weight":-0.004},{"sample":9,"weight":0.096},{"sample":10,"weight":0.2},{"sample":11,"weight":0.282},{"sample":12,"weight":0.337},{"sample":13,"weight":0.357},{"sample":14,"weight":0.346},{"sample":15,"weight":0.315},{"sample":16,"weight":0.272},{"sample":17,"weight":0.225},{"sample":18,"weight":0.181},{"sample":19,"weight":0.137},{"sample":20,"weight":0.094},{"sample":21,"weight":0.051},{"sample":22,"weight":0.007},{"sample":23,"weight":-0.035},{"sample":24,"weight":-0.074},{"sample":25,"weight":-0.106},{"sample":26,"weight":-0.131},{"sample":27,"weight":-0.148},{"sample":28,"weight":-0.157},{"sample":29,"weight":-0.162}
]
},
"vconcat": [
{
"width": 536, "height": 183.7,
"data": {"name": "wave"},
"transform": [{"fold": ["w00","w01","w02","w03","w04","w05","w06","w07","w08","w09","w10","w11","w12","w13","w14","w15","w16","w17","w18","w19","w20","w21","w22","w23","w24","w25","w26","w27","w28","w29","w30","w31","w32","w33","w34","w35","w36","w37","w38","w39","w40","w41","w42","w43","w44","w45","w46","w47","w48","w49","w50","w51","w52","w53","w54","w55","w56","w57","w58","w59","w60","w61","w62","w63","w64","w65","w66","w67","w68","w69","w70","w71","w72","w73","w74","w75","w76","w77","w78","w79"], "as": ["spike", "amp"]}],
"mark": {"type": "line", "strokeWidth": 0.7, "clip": true},
"encoding": {
"x": {"field": "sample", "type": "quantitative", "scale": {"domain": [-1.45, 30.45], "nice": false, "zero": false}, "axis": {"title": null, "values": [0,5,10,15,20,25,30]}},
"y": {"field": "amp", "type": "quantitative", "scale": {"domain": [-450, 254], "nice": false, "zero": false}, "axis": {"title": "Amplitude [μV]", "values": [-400,-200,0,200], "titleX": -59}},
"color": {"field": "spike", "type": "nominal", "scale": {"range": ["#1f77b4","#ff7f0e","#2ca02c","#d62728","#9467bd","#8c564b","#e377c2","#7f7f7f","#bcbd22","#17becf"]}, "legend": null}
}
},
{
"width": 536, "height": 184,
"data": {"name": "pc"},
"mark": {"type": "line", "strokeWidth": 2, "color": "#1f77b4"},
"encoding": {
"x": {"field": "sample", "type": "quantitative", "scale": {"domain": [-1.45, 30.45], "nice": false, "zero": false}, "axis": {"title": "Sample", "values": [0,5,10,15,20,25,30], "titlePadding": 5}},
"y": {"field": "weight", "type": "quantitative", "scale": {"domain": [-0.19, 0.381], "nice": false, "zero": false}, "axis": {"title": "PC weight [a.u.]", "values": [-0.1,0,0.1,0.2,0.3], "format": ".1f", "titleX": -52.5}}
}
}
]
}
